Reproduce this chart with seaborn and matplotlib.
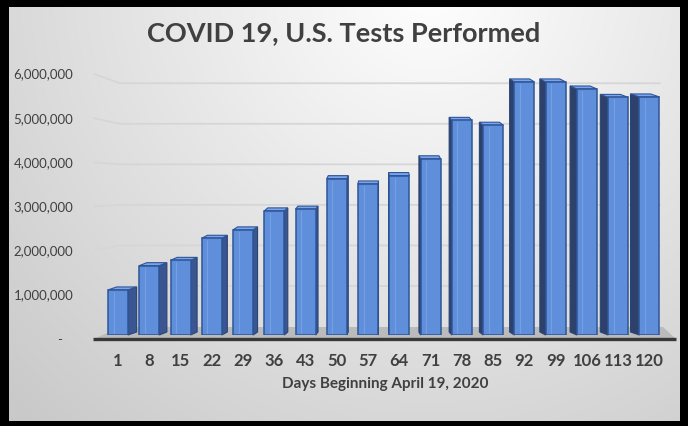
import numpy as np
import pandas as pd
import matplotlib
matplotlib.use("Agg")
import matplotlib.pyplot as plt
import seaborn as sns
from matplotlib.patches import Polygon
from matplotlib.transforms import ScaledTranslation
from matplotlib.colors import LinearSegmentedColormap

# ---------------- data ----------------
days = ["1", "8", "15", "22", "29", "36", "43", "50", "57", "64",
        "71", "78", "85", "92", "99", "106", "113", "120"]
tests = [1020000, 1570000, 1690000, 2190000, 2380000, 2810000, 2850000,
         3540000, 3420000, 3610000, 3990000, 4860000, 4750000, 5730000,
         5730000, 5570000, 5380000, 5390000]
ytick_values = [0, 1000000, 2000000, 3000000, 4000000, 5000000, 6000000]
title = "COVID 19, U.S. Tests Performed"
xlabel = "Days Beginning April 19, 2020"

df = pd.DataFrame({"day": days, "tests": tests})

# ---------------- figure ----------------
W, H = 688, 426
DPI = 100
sns.set_theme(style="white")
plt.rcParams["font.family"] = ["Lato", "DejaVu Sans"]

fig = plt.figure(figsize=(W / DPI, H / DPI), dpi=DPI)
fig.patch.set_facecolor("black")

# gradient background panel inside black frame
bx0, by0, bx1, by1 = 9, 7, 680, 421  # pixel box (top-left origin)
bg = fig.add_axes([bx0 / W, (H - by1) / H, (bx1 - bx0) / W, (by1 - by0) / H])
yy, xx = np.mgrid[by0:by1, bx0:bx1]
dist = np.sqrt((xx - 430.0) ** 2 + (yy + 20.0) ** 2)
t = np.clip(dist / 600.0, 0, 1)
cmap_bg = LinearSegmentedColormap.from_list("bg", ["#ffffff", "#c9c9c9"])
bg.imshow(t, cmap=cmap_bg, vmin=0, vmax=1, aspect="auto",
          extent=[0, 1, 0, 1], origin="upper")
bg.set_axis_off()

# main axes
ax_l, ax_r = 94, 676          # pixel x span
ax_bot, ax_top = 335, 70      # pixel y (top-left origin)
ax = fig.add_axes([ax_l / W, (H - ax_bot) / H, (ax_r - ax_l) / W,
                   (ax_bot - ax_top) / H])
ax.set_facecolor("none")

px_per_cat = 31.26
first_center = 118
xlim = ((ax_l - first_center) / px_per_cat, (ax_r - first_center) / px_per_cat)
ymax = 6000000
px_per_val = (ax_bot - ax_top) / ymax

sns.barplot(data=df, x="day", y="tests", ax=ax, color="#5f8fdb",
            width=0.64, edgecolor="#2f5597", linewidth=1.1,
            saturation=1, errorbar=None, zorder=3)
ax.set_xlim(*xlim)
ax.set_ylim(0, ymax)

def px2dx(p):
    return p / px_per_cat

def px2dy(p):
    return p / px_per_val

bars = list(ax.patches)

# floor
floor_front = -px2dy(4)
floor_back = px2dy(8)
floor = Polygon([(xlim[0], floor_front), (xlim[1], floor_front),
                 (xlim[1] - px2dx(13), floor_back), (xlim[0] + px2dx(26), floor_back)],
                closed=True, facecolor="#bbbbbb", edgecolor="none",
                zorder=0.5, clip_on=False)
ax.add_patch(floor)
ax.plot([xlim[0] - px2dx(1), xlim[1]], [floor_front, floor_front],
        color="#383838", lw=2.4, solid_capstyle="butt", zorder=4, clip_on=False)

# back-wall gridlines
for v in ytick_values[1:]:
    vm = v / 1e6
    y_left = v - px2dy(4)
    y_wall = (0.192 + 0.918 * vm) * 1e6
    ax.plot([xlim[0], xlim[0] + px2dx(26), xlim[1] - px2dx(16)],
            [y_left, y_wall, y_wall], color="#d6d6d6", lw=1.3,
            zorder=0.4, clip_on=False)

# pseudo 3-D depth for each bar
vanish_x = 380
dy = px2dy(3)
for p in bars:
    x0 = p.get_x()
    w = p.get_width()
    h = p.get_height()
    x1 = x0 + w
    cx_pix = first_center + (x0 + w / 2) * px_per_cat
    dxp = 0.033 * (vanish_x - cx_pix)
    dx = px2dx(dxp)
    if dx >= 0:
        side = [(x1, 0), (x1, h), (x1 + dx, h + dy), (x1 + dx, dy)]
        side_col = "#3a5690"
    else:
        side = [(x0, 0), (x0, h), (x0 + dx, h + dy), (x0 + dx, dy)]
        side_col = "#2d416a"
    ax.add_patch(Polygon(side, closed=True, facecolor=side_col,
                         edgecolor="#2a4478", lw=0.8, zorder=2,
                         clip_on=False))
    top = [(x0, h), (x1, h), (x1 + dx, h + dy), (x0 + dx, h + dy)]
    ax.add_patch(Polygon(top, closed=True, facecolor="#7aa5ec",
                         edgecolor="#2f5597", lw=0.8, zorder=2,
                         clip_on=False))
    # bevel highlight line on the front face
    ax.plot([x0 + w * 0.28, x0 + w * 0.28], [px2dy(2), h - px2dy(2)],
            color="#7fa6e6", lw=0.8, alpha=0.7, zorder=3.5)

# ticks and labels
ax.set_yticks(ytick_values)
ax.set_yticklabels(["-   " if v == 0 else f"{v:,.0f}" for v in ytick_values])
ax.tick_params(axis="y", length=0, pad=15, labelsize=9.5, labelcolor="#404040")
ax.tick_params(axis="x", length=0, pad=13, labelsize=12, labelcolor="#404040")
for lab in ax.get_xticklabels():
    lab.set_fontweight("bold")
off = ScaledTranslation(0, -3.5 / DPI, fig.dpi_scale_trans)
for lab in ax.get_yticklabels():
    lab.set_transform(lab.get_transform() + off)

ax.set_xlabel(xlabel, fontsize=11, fontweight="bold", color="#404040",
              labelpad=6)
ax.set_ylabel("")
for s in ax.spines.values():
    s.set_visible(False)
ax.grid(False)

fig.text(0.5, 1 - 33 / H, title, ha="center", va="center", fontsize=19.5,
         fontweight="bold", color="#404040")

fig.savefig("out.png", dpi=DPI, facecolor=fig.get_facecolor())
